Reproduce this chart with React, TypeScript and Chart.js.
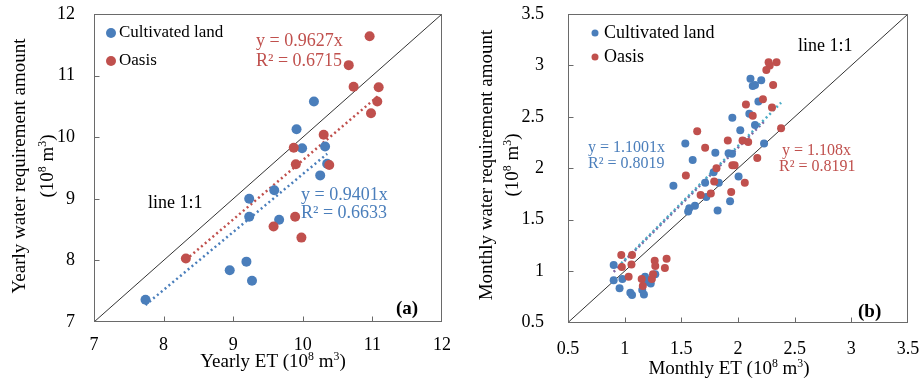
import React, { useEffect, useRef } from "react";
import { Chart, registerables } from "chart.js";
Chart.register(...registerables);

// ---------- Data: (a) yearly ----------
const cultivatedYearlyET = [10.16, 9.91, 9.99, 10.32, 10.35, 10.25, 9.59, 9.23, 9.23, 9.66, 9.19, 8.95, 9.27, 7.74];
const cultivatedYearlyWR = [10.58, 10.13, 9.82, 9.85, 9.57, 9.38, 9.14, 9.0, 8.71, 8.66, 7.98, 7.84, 7.67, 7.36];
const oasisYearlyET = [10.96, 10.66, 10.73, 11.09, 11.07, 10.98, 10.3, 9.87, 9.9, 10.38, 9.58, 9.89, 9.98, 8.32];
const oasisYearlyWR = [11.64, 11.17, 10.82, 10.81, 10.58, 10.39, 10.04, 9.83, 9.56, 9.55, 8.55, 8.71, 8.37, 8.03];
const cultivatedYearlySlope = 0.9401;
const oasisYearlySlope = 0.9627;
const yearlyTickLabels = ["7", "8", "9", "10", "11", "12"];

// ---------- Data: (b) monthly ----------
const cultivatedMonthlyET = [2.11, 2.205, 2.13, 2.15, 2.18, 2.1, 1.95, 2.15, 2.02, 1.535, 2.23, 1.6, 1.8, 1.917, 1.947,
  1.785, 1.71, 1.83, 2.005, 1.43, 1.93, 1.62, 1.57, 1.56, 1.82, 1.72,
  0.903, 0.903, 0.98, 0.955, 1.05, 1.065, 1.18, 1.2, 1.23, 1.27, 1.155, 1.17];
const cultivatedMonthlyWR = [2.87, 2.855, 2.8, 2.81, 2.65, 2.53, 2.49, 2.42, 2.37, 2.24, 2.24, 2.08, 2.15, 2.145, 2.14,
  1.96, 1.86, 1.86, 1.92, 1.83, 1.68, 1.635, 1.61, 1.58, 1.59, 1.72,
  1.058, 0.912, 0.922, 0.832, 0.79, 0.767, 0.945, 0.896, 0.88, 0.968, 0.815, 0.773];
const oasisMonthlyET = [2.27, 2.34, 2.28, 2.25, 2.31, 2.22, 2.07, 2.3, 2.13, 2.38, 1.64, 1.91, 2.04, 2.09, 1.71, 2.17, 1.95, 1.97, 1.81,
  1.54, 1.79, 2.06, 1.94, 1.76, 1.67,
  0.97, 1.065, 0.975, 1.06, 1.035, 1.265, 1.37, 1.27, 1.355, 1.25, 1.15, 1.24, 1.16];
const oasisMonthlyWR = [3.03, 3.03, 3.0, 2.955, 2.81, 2.67, 2.62, 2.59, 2.51, 2.39, 2.36, 2.27, 2.27, 2.255, 2.2, 2.1, 2.03, 2.03, 2.0,
  1.93, 1.87, 1.86, 1.77, 1.755, 1.74,
  1.156, 1.156, 1.04, 1.065, 0.945, 1.1, 1.12, 1.05, 1.03, 0.968, 0.922, 0.922, 0.854];
const cultivatedMonthlySlope = 1.1001;
const oasisMonthlySlope = 1.108;
const monthlyTickLabels = ["0.5", "1", "1.5", "2", "2.5", "3", "3.5"];

const BLUE = "#4A7EBB";
const RED = "#C0504D";
const CYAN = "#4BACC6";
const PURPLE = "#8064A2";
const FONT = '"Liberation Serif", "Times New Roman", serif';

type Part = { t: string; sup?: boolean };
type Txt = { parts: Part[]; x: number; y: number; size: number; color: string; align?: "left" | "center"; bold?: boolean; rotate?: boolean };
type Leg = { x: number; y: number; r: number; color: string; label: string; size: number; tx: number };
type Deco = { texts: Txt[]; legend: Leg[]; xTicks: number[]; yTicks: number[] };

function drawRich(ctx: CanvasRenderingContext2D, t: Txt) {
  ctx.save();
  const supSize = t.size * 0.62;
  const fontOf = (sup?: boolean) => `${t.bold ? "bold " : ""}${sup ? supSize : t.size}px ${FONT}`;
  let w = 0;
  for (const p of t.parts) { ctx.font = fontOf(p.sup); w += ctx.measureText(p.t).width; }
  ctx.translate(t.x, t.y);
  if (t.rotate) ctx.rotate(-Math.PI / 2);
  let cx = t.align === "left" ? 0 : -w / 2;
  ctx.fillStyle = t.color;
  ctx.textBaseline = "middle";
  ctx.textAlign = "left";
  for (const p of t.parts) {
    ctx.font = fontOf(p.sup);
    ctx.fillText(p.t, cx, p.sup ? -t.size * 0.25 : 0);
    cx += ctx.measureText(p.t).width;
  }
  ctx.restore();
}

function makeDeco(deco: Deco) {
  return {
    id: "deco",
    afterDraw(chart: any) {
      const ctx: CanvasRenderingContext2D = chart.ctx;
      const a = chart.chartArea;
      const xs = chart.scales.x;
      const ys = chart.scales.y;
      ctx.save();
      ctx.strokeStyle = "#6a6a6a";
      ctx.lineWidth = 1;
      const L = Math.round(a.left) + 0.5, R = Math.round(a.right) - 0.5;
      const T = Math.round(a.top) + 0.5, B = Math.round(a.bottom) - 0.5;
      ctx.strokeRect(L, T, R - L, B - T);
      ctx.beginPath();
      for (const v of deco.xTicks) {
        const px = Math.round(xs.getPixelForValue(v)) + 0.5;
        ctx.moveTo(px, B); ctx.lineTo(px, B - 5);
      }
      for (const v of deco.yTicks) {
        const py = Math.round(ys.getPixelForValue(v)) + 0.5;
        ctx.moveTo(L, py); ctx.lineTo(L + 5, py);
      }
      ctx.stroke();
      for (const l of deco.legend) {
        ctx.fillStyle = l.color;
        ctx.beginPath(); ctx.arc(l.x, l.y, l.r, 0, Math.PI * 2); ctx.fill();
        drawRich(ctx, { parts: [{ t: l.label }], x: l.tx, y: l.y, size: l.size, color: "#000", align: "left" });
      }
      ctx.restore();
      for (const t of deco.texts) drawRich(ctx, t);
    },
  };
}

function pts(xs: number[], ys: number[]) {
  return xs.map((x, i) => ({ x, y: ys[i] }));
}
function trend(xs: number[], slope: number) {
  const lo = Math.min(...xs), hi = Math.max(...xs);
  return [{ x: lo, y: slope * lo }, { x: hi, y: slope * hi }];
}

function buildConfig(o: {
  cultET: number[]; cultWR: number[]; oasET: number[]; oasWR: number[];
  cultSlope: number; oasSlope: number; cultTrendColor: string; oasTrendColor: string;
  min: number; max: number; step: number; labels: string[]; r: number;
  padRight: number; yWidth: number; xHeight: number; yPad: number; xPad: number; deco: Deco;
}) {
  const tickFont = { family: FONT, size: 18 };
  return {
    type: "scatter" as const,
    data: {
      datasets: [
        { data: pts(o.oasET, o.oasWR), backgroundColor: RED, borderWidth: 0, pointRadius: o.r, order: 0 },
        { data: pts(o.cultET, o.cultWR), backgroundColor: BLUE, borderWidth: 0, pointRadius: o.r, order: 1 },
        { data: trend(o.oasET, o.oasSlope), showLine: true, borderColor: o.oasTrendColor, borderWidth: 2.5, borderDash: [2, 3], pointRadius: 0, order: 2 },
        { data: trend(o.cultET, o.cultSlope), showLine: true, borderColor: o.cultTrendColor, borderWidth: 2.5, borderDash: [2, 3], pointRadius: 0, order: 3 },
        { data: [{ x: o.min, y: o.min }, { x: o.max, y: o.max }], showLine: true, borderColor: "#333", borderWidth: 1, pointRadius: 0, order: 4 },
      ],
    },
    options: {
      responsive: false,
      animation: false as const,
      events: [],
      layout: { padding: { left: 0, top: 14, right: o.padRight, bottom: 0 } },
      plugins: { legend: { display: false }, tooltip: { enabled: false } },
      scales: {
        x: {
          type: "linear" as const, min: o.min, max: o.max,
          ticks: { stepSize: o.step, color: "#000", font: tickFont, padding: o.xPad, maxRotation: 0, autoSkip: false,
            callback: (_v: any, i: number) => o.labels[i] },
          grid: { display: false, drawTicks: false }, border: { display: false },
          afterFit: (s: any) => { s.height = o.xHeight; s.paddingLeft = 0; s.paddingRight = 0; },
        },
        y: {
          type: "linear" as const, min: o.min, max: o.max,
          ticks: { stepSize: o.step, color: "#000", font: tickFont, padding: o.yPad, autoSkip: false,
            callback: (_v: any, i: number) => o.labels[i] },
          grid: { display: false, drawTicks: false }, border: { display: false },
          afterFit: (s: any) => { s.width = o.yWidth; s.paddingTop = 0; s.paddingBottom = 0; },
        },
      },
    },
    plugins: [makeDeco(o.deco)],
  };
}

const unit: Part[] = [{ t: "(10" }, { t: "8", sup: true }, { t: " m" }, { t: "3", sup: true }, { t: ")" }];

const decoA: Deco = {
  xTicks: [8, 9, 10, 11],
  yTicks: [8, 9, 10, 11],
  legend: [
    { x: 111, y: 33, r: 5, color: BLUE, label: "Cultivated land", size: 17, tx: 119 },
    { x: 111, y: 61, r: 5, color: RED, label: "Oasis", size: 17, tx: 119 },
  ],
  texts: [
    { parts: [{ t: "y = 0.9627x" }], x: 256, y: 41, size: 18, color: RED, align: "left" },
    { parts: [{ t: "R² = 0.6715" }], x: 256, y: 61, size: 18, color: RED, align: "left" },
    { parts: [{ t: "y = 0.9401x" }], x: 301, y: 195, size: 18, color: BLUE, align: "left" },
    { parts: [{ t: "R² = 0.6633" }], x: 301, y: 213, size: 18, color: BLUE, align: "left" },
    { parts: [{ t: "line 1:1" }], x: 148, y: 203, size: 18, color: "#000", align: "left" },
    { parts: [{ t: "(a)" }], x: 396, y: 309, size: 19, color: "#000", align: "left", bold: true },
    { parts: [{ t: "Yearly ET " }, ...unit], x: 273, y: 362, size: 19, color: "#000" },
    { parts: [{ t: "Yearly water requirement amount" }], x: 20, y: 166, size: 19, color: "#000", rotate: true },
    { parts: unit, x: 48, y: 166, size: 19, color: "#000", rotate: true },
  ],
};

const decoB: Deco = {
  xTicks: [1, 1.5, 2, 2.5, 3],
  yTicks: [1, 1.5, 2, 2.5, 3],
  legend: [
    { x: 135, y: 33, r: 3.5, color: BLUE, label: "Cultivated land", size: 18, tx: 144 },
    { x: 135, y: 57, r: 3.5, color: RED, label: "Oasis", size: 18, tx: 144 },
  ],
  texts: [
    { parts: [{ t: "y = 1.1001x" }], x: 128, y: 148, size: 16, color: BLUE, align: "left" },
    { parts: [{ t: "R² = 0.8019" }], x: 128, y: 164, size: 16, color: BLUE, align: "left" },
    { parts: [{ t: "y = 1.108x" }], x: 322, y: 151, size: 16, color: RED, align: "left" },
    { parts: [{ t: "R² = 0.8191" }], x: 319, y: 167, size: 16, color: RED, align: "left" },
    { parts: [{ t: "line 1:1" }], x: 338, y: 46, size: 18, color: "#000", align: "left" },
    { parts: [{ t: "(b)" }], x: 398, y: 312, size: 19, color: "#000", align: "left", bold: true },
    { parts: [{ t: "Monthly ET " }, ...unit], x: 269, y: 369, size: 19, color: "#000" },
    { parts: [{ t: "Monthly water requirement amount" }], x: 27, y: 165, size: 19, color: "#000", rotate: true },
    { parts: unit, x: 53, y: 165, size: 19, color: "#000", rotate: true },
  ],
};

export default function App() {
  const leftRef = useRef<HTMLCanvasElement | null>(null);
  const rightRef = useRef<HTMLCanvasElement | null>(null);
  useEffect(() => {
    const a = new Chart(leftRef.current as HTMLCanvasElement, buildConfig({
      cultET: cultivatedYearlyET, cultWR: cultivatedYearlyWR, oasET: oasisYearlyET, oasWR: oasisYearlyWR,
      cultSlope: cultivatedYearlySlope, oasSlope: oasisYearlySlope, cultTrendColor: BLUE, oasTrendColor: RED,
      min: 7, max: 12, step: 1, labels: yearlyTickLabels, r: 5,
      padRight: 18, yWidth: 94, xHeight: 63, yPad: 19, xPad: 12, deco: decoA,
    }) as any);
    const b = new Chart(rightRef.current as HTMLCanvasElement, buildConfig({
      cultET: cultivatedMonthlyET, cultWR: cultivatedMonthlyWR, oasET: oasisMonthlyET, oasWR: oasisMonthlyWR,
      cultSlope: cultivatedMonthlySlope, oasSlope: oasisMonthlySlope, cultTrendColor: PURPLE, oasTrendColor: CYAN,
      min: 0.5, max: 3.5, step: 0.5, labels: monthlyTickLabels, r: 4,
      padRight: 13, yWidth: 108, xHeight: 62.5, yPad: 24, xPad: 16, deco: decoB,
    }) as any);
    return () => { a.destroy(); b.destroy(); };
  }, []);
  return (
    <div style={{ position: "absolute", left: 0, top: 0, width: 921, height: 385, background: "#fff" }}>
      <canvas ref={leftRef} width={460} height={385} style={{ position: "absolute", left: 0, top: 0 }} />
      <canvas ref={rightRef} width={461} height={385} style={{ position: "absolute", left: 460, top: 0 }} />
    </div>
  );
}
